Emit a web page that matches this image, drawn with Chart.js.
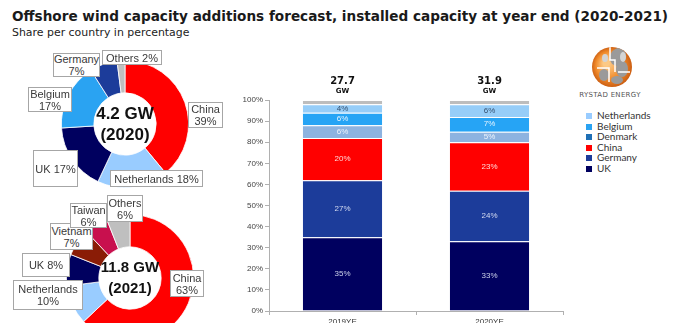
<!DOCTYPE html>
<html>
<head>
<meta charset="utf-8">
<script src="https://cdn.jsdelivr.net/npm/chart.js@4.4.1/dist/chart.umd.min.js"></script>
<style>
html, body { margin: 0; padding: 0; background: #fff; }
body { width: 680px; height: 323px; position: relative; overflow: hidden; font-family: "Liberation Sans", Arial, sans-serif; }
#title { position: absolute; left: 12px; top: 8px; font: bold 13px "DejaVu Sans"; color: #1a1a1a; white-space: nowrap; }
#subtitle { position: absolute; left: 12px; top: 26px; font: 11px "DejaVu Sans"; color: #222; white-space: nowrap; }
canvas { position: absolute; }
.box { position: absolute; box-sizing: border-box; background: #fff; border: 1px solid #a6a6a6; font-size: 11px; line-height: 12px; color: #3a3a3a; text-align: center; display: flex; align-items: center; justify-content: center; white-space: nowrap; }
#legend { position: absolute; left: 586px; top: 110px; font: 10px Lato, sans-serif; color: #333; }
#legend div { height: 10.5px; line-height: 10.5px; white-space: nowrap; }
#legend span { display: inline-block; width: 6px; height: 6px; margin-right: 5px; vertical-align: 0px; }
#brand { position: absolute; left: 576px; top: 91px; width: 68px; text-align: center; font: 7px "DejaVu Sans"; letter-spacing: 0.3px; color: #555; white-space: nowrap; }
</style>
</head>
<body>
<div id="title">Offshore wind capacity additions forecast, installed capacity at year end (2020-2021)</div>
<div id="subtitle">Share per country in percentage</div>

<canvas id="pie2020" width="128" height="128" style="left:61px; top:60px;"></canvas>
<canvas id="pie2021" width="128" height="128" style="left:66px; top:214px;"></canvas>
<canvas id="bars" width="345" height="265" style="left:225px; top:65px;"></canvas>
<canvas id="logo" width="44" height="44" style="left:590px; top:45px;"></canvas>
<div id="brand">RYSTAD ENERGY</div>
<div id="legend"></div>

<div class="box" style="left:53px; top:53px; width:47px; height:24px;">Germany<br>7%</div>
<div class="box" style="left:102px; top:50px; width:60px; height:15px;">Others 2%</div>
<div class="box" style="left:28px; top:87px; width:44px; height:25px;">Belgium<br>17%</div>
<div class="box" style="left:188px; top:102px; width:35px; height:26px;">China<br>39%</div>
<div class="box" style="left:33px; top:150px; width:45px; height:37px;">UK 17%</div>
<div class="box" style="left:110px; top:170px; width:93px; height:17px;">Netherlands 18%</div>

<div class="box" style="left:50px; top:223px; width:43px; height:27px;">Vietnam<br>7%</div>
<div class="box" style="left:70px; top:203px; width:37px; height:25px;">Taiwan<br>6%</div>
<div class="box" style="left:107px; top:195px; width:36px; height:27px;">Others<br>6%</div>
<div class="box" style="left:22px; top:253px; width:48px; height:24px;">UK 8%</div>
<div class="box" style="left:13px; top:280px; width:70px; height:30px;">Netherlands<br>10%</div>
<div class="box" style="left:170px; top:270px; width:34px; height:27px;">China<br>63%</div>

<script>
// doughnuts (clockwise from 12 o'clock)
var pie2020Labels = ['China', 'Netherlands', 'UK', 'Belgium', 'Germany', 'Others'];
var pie2020Values = [39, 18, 17, 17, 7, 2];
var pie2020Colors = ['#ff0000', '#99ccff', '#00005f', '#2aa3f2', '#1c3c9a', '#bfbfbf'];
var pie2020Center = ['4.2 GW', '(2020)'];

var pie2021Labels = ['China', 'Netherlands', 'UK', 'Vietnam', 'Taiwan', 'Others'];
var pie2021Values = [63, 10, 8, 7, 6, 6];
var pie2021Colors = ['#ff0000', '#99ccff', '#00005f', '#8a1c06', '#c8104e', '#bfbfbf'];
var pie2021Center = ['11.8 GW', '(2021)'];

// stacked bars
var years = ['2019YE', '2020YE'];
var totalsGW = ['27.7', '31.9'];
var ukShare = [35, 33];
var germanyShare = [27, 24];
var chinaShare = [20, 23];
var denmarkShare = [6, 5];
var belgiumShare = [6, 7];
var netherlandsShare = [4, 6];
var othersShare = [2, 2];
var yTicks = [0, 10, 20, 30, 40, 50, 60, 70, 80, 90, 100];

var legendNames = ['Netherlands', 'Belgium', 'Denmark', 'China', 'Germany', 'UK'];
var legendColors = ['#99ccff', '#2aa3f2', '#1f6fb5', '#ff0000', '#1c3c9a', '#00005f'];

Chart.defaults.font.family = '"Liberation Sans", Arial, sans-serif';
Chart.defaults.color = '#444';

// fit the heading to the width it has in the slide
var t = document.getElementById('title');
t.style.fontSize = (13 * 656 / t.offsetWidth) + 'px';
var s = document.getElementById('subtitle');
s.style.fontSize = (11 * 178 / s.offsetWidth) + 'px';

var centerText = {
    id: 'centerText',
    afterDraw: function (chart) {
        var opt = chart.options.plugins.centerText;
        var arc = chart.getDatasetMeta(0).data[0];
        var ctx = chart.ctx;
        ctx.save();
        ctx.fillStyle = '#111';
        ctx.font = 'bold ' + opt.size + 'px "Liberation Sans", Arial, sans-serif';
        ctx.textAlign = 'center';
        ctx.textBaseline = 'middle';
        ctx.fillText(opt.lines[0], arc.x, arc.y - 10);
        ctx.fillText(opt.lines[1], arc.x, arc.y + 11);
        ctx.restore();
    }
};

function makePie(id, labels, values, colors, center, size) {
    new Chart(document.getElementById(id), {
        type: 'doughnut',
        data: {
            labels: labels,
            datasets: [{
                data: values,
                backgroundColor: colors,
                borderColor: '#ffffff',
                borderWidth: 0.8
            }]
        },
        plugins: [centerText],
        options: {
            responsive: false,
            animation: false,
            devicePixelRatio: 1,
            cutout: '49%',
            layout: { padding: 0 },
            plugins: {
                legend: { display: false },
                tooltip: { enabled: false },
                centerText: { lines: center, size: size }
            }
        }
    });
}

makePie('pie2020', pie2020Labels, pie2020Values, pie2020Colors, pie2020Center, 17);
makePie('pie2021', pie2021Labels, pie2021Values, pie2021Colors, pie2021Center, 15);

var barLabels = {
    id: 'barLabels',
    afterDatasetsDraw: function (chart) {
        var ctx = chart.ctx;
        ctx.save();
        ctx.textAlign = 'center';
        ctx.textBaseline = 'middle';
        ctx.font = '8px "Liberation Sans", Arial, sans-serif';
        chart.data.datasets.forEach(function (ds, i) {
            if (!ds.labelColor) return;
            chart.getDatasetMeta(i).data.forEach(function (bar, j) {
                ctx.fillStyle = ds.labelColor;
                ctx.fillText(ds.data[j] + '%', bar.x, (bar.y + bar.base) / 2);
            });
        });
        var top = chart.scales.y.getPixelForValue(100);
        var meta = chart.getDatasetMeta(chart.data.datasets.length - 1);
        meta.data.forEach(function (bar, j) {
            ctx.fillStyle = '#111';
            ctx.font = 'bold 10px "DejaVu Sans"';
            ctx.fillText(totalsGW[j], bar.x, top - 19);
            ctx.font = 'bold 7px "DejaVu Sans"';
            ctx.fillText('GW', bar.x, top - 9);
        });
        ctx.restore();
    }
};

new Chart(document.getElementById('bars'), {
    type: 'bar',
    data: {
        labels: years,
        datasets: [
            { label: 'UK', data: ukShare, backgroundColor: '#00005f', labelColor: '#c9cfe8' },
            { label: 'Germany', data: germanyShare, backgroundColor: '#1c3c9a', labelColor: '#d3daf0' },
            { label: 'China', data: chinaShare, backgroundColor: '#ff0000', labelColor: '#ffd8d8' },
            { label: 'Denmark', data: denmarkShare, backgroundColor: '#8db3e0', labelColor: '#eef4fc' },
            { label: 'Belgium', data: belgiumShare, backgroundColor: '#26a4f5', labelColor: '#e6f4ff' },
            { label: 'Netherlands', data: netherlandsShare, backgroundColor: '#96cdf8', labelColor: '#35506e' },
            { label: 'Others', data: othersShare, backgroundColor: '#bdbdbd' }
        ]
    },
    plugins: [barLabels],
    options: {
        responsive: false,
        animation: false,
        devicePixelRatio: 1,
        layout: { padding: { top: 35, right: 7, left: 0, bottom: 0 } },
        datasets: {
            bar: {
                categoryPercentage: 1,
                barPercentage: 0.54,
                borderColor: 'rgba(255,255,255,0.45)',
                borderWidth: { top: 1 },
                borderSkipped: false
            }
        },
        plugins: {
            legend: { display: false },
            tooltip: { enabled: false }
        },
        scales: {
            x: {
                stacked: true,
                afterFit: function (scale) { scale.height = 19; },
                grid: {
                    offset: true,
                    drawOnChartArea: false,
                    tickLength: 4,
                    color: '#b0b0b0'
                },
                border: { color: '#b0b0b0' },
                ticks: {
                    padding: 2,
                    color: '#333',
                    font: { size: 8 }
                }
            },
            y: {
                stacked: true,
                min: 0,
                max: 100,
                afterFit: function (scale) { scale.width = 44; },
                afterBuildTicks: function (scale) {
                    scale.ticks = yTicks.map(function (v) { return { value: v }; });
                },
                grid: {
                    drawOnChartArea: false,
                    tickLength: 4,
                    color: '#b0b0b0'
                },
                border: { color: '#b0b0b0' },
                ticks: {
                    padding: 2,
                    color: '#444',
                    font: { size: 8 },
                    callback: function (v) { return v + '%'; }
                }
            }
        }
    }
});

// legend
var lg = document.getElementById('legend');
legendNames.forEach(function (name, i) {
    var row = document.createElement('div');
    row.innerHTML = '<span style="background:' + legendColors[i] + '"></span>' + name;
    lg.appendChild(row);
});

// company logo (decorative globe)
var lc = document.getElementById('logo').getContext('2d');
var g = lc.createRadialGradient(16, 18, 3, 22, 22, 21);
g.addColorStop(0, '#fcc985');
g.addColorStop(0.6, '#f08a2a');
g.addColorStop(1, '#c85a10');
lc.beginPath();
lc.arc(22, 22, 20, 0, Math.PI * 2);
lc.fillStyle = g;
lc.fill();
lc.save();
lc.clip();
lc.fillStyle = '#9a9a9a';
lc.beginPath(); lc.ellipse(28, 12, 8, 9, 0.4, 0, Math.PI * 2); lc.fill();
lc.beginPath(); lc.ellipse(32, 24, 6, 8, 0, 0, Math.PI * 2); lc.fill();
lc.beginPath(); lc.ellipse(14, 30, 5, 6, 0, 0, Math.PI * 2); lc.fill();
lc.beginPath(); lc.ellipse(27, 35, 6, 4, 0, 0, Math.PI * 2); lc.fill();
lc.fillStyle = '#d4d4d4';
lc.beginPath(); lc.ellipse(33, 12, 3, 5, 0, 0, Math.PI * 2); lc.fill();
lc.beginPath(); lc.ellipse(15, 13, 3, 4, 0, 0, Math.PI * 2); lc.fill();
lc.strokeStyle = '#ffffff';
lc.lineWidth = 1.5;
lc.beginPath();
lc.moveTo(20, 2); lc.lineTo(20, 15); lc.lineTo(25, 15); lc.lineTo(25, 27);
lc.moveTo(7, 23); lc.lineTo(19, 23); lc.lineTo(19, 37);
lc.moveTo(28, 27); lc.lineTo(40, 27);
lc.stroke();
lc.restore();
</script>
</body>
</html>
